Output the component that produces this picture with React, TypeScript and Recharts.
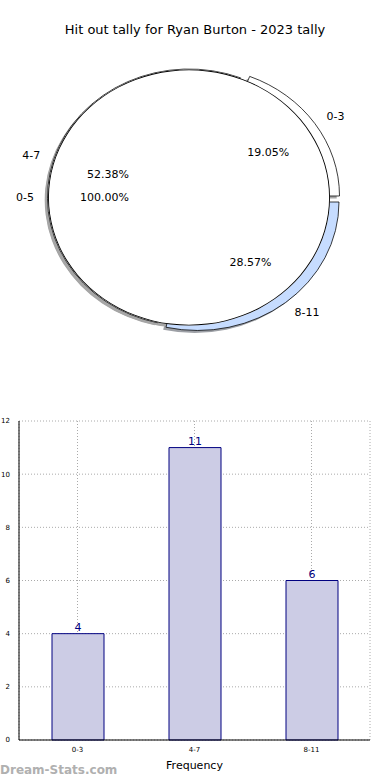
import React from "react";
import { PieChart, Pie, Cell, BarChart, Bar, XAxis, YAxis, CartesianGrid, LabelList } from "recharts";

const title = "Hit out tally for Ryan Burton - 2023 tally";
const categories = ["0-3", "4-7", "8-11"];
const counts = [4, 11, 6];
const innerCategories = ["0-5"];
const innerCounts = [21];
const yTicks = [0, 2, 4, 6, 8, 10, 12];

const outerColors = ["#ffffff", "#ffffff", "#c6dcff"];
const shadowColors = ["#a6a6a6", "#a6a6a6", "#9da0a6"];
// how far each outer slice is pulled out, in screen px
const explodeX = [9, 0, 8.5];
const explodeY = [-1.5, 0, 4.5];

const outerData = categories.map((name, i) => ({ name, value: counts[i] }));
const innerData = innerCategories.map((name, i) => ({ name, value: innerCounts[i] }));
const barData = categories.map((name, i) => ({ name, value: counts[i] }));

const FONT = "'DejaVu Sans', sans-serif";
const RADIAN = Math.PI / 180;
const CX = 189;
const CY = 197.5;
const SY = 0.908;
const INNER_R = 141;
const OUTER_R = 141.5;
const SHADOW = 2.8;

const makeLabel = (only: number | null) => (props: any) => {
  const { cx, cy, midAngle, outerRadius, percent, name, index } = props;
  if (only !== null && index !== only) return null;
  const cos = Math.cos(-midAngle * RADIAN);
  const sin = Math.sin(-midAngle * RADIAN);
  const lx = cx + outerRadius * 1.1 * cos;
  const ly = cy + outerRadius * 1.1 * sin;
  const px = cx + outerRadius * 0.6 * cos;
  const py = cy + outerRadius * 0.6 * sin;
  const k = `scale(1,${1 / SY})`;
  return (
    <g>
      <text
        transform={`translate(${lx},${ly}) ${k}`}
        textAnchor={cos > 0 ? "start" : "end"}
        dominantBaseline="central"
        fontSize={11}
        fontFamily={FONT}
        fill="#000"
      >
        {name}
      </text>
      <text
        transform={`translate(${px},${py}) ${k}`}
        textAnchor="middle"
        dominantBaseline="central"
        fontSize={11}
        fontFamily={FONT}
        fill="#000"
      >
        {(percent * 100).toFixed(2)}%
      </text>
    </g>
  );
};

export default function App() {
  return (
    <div style={{ position: "absolute", left: 0, top: 0, width: 390, height: 780, background: "#fff", fontFamily: FONT }}>
      <div style={{ position: "absolute", top: 21, left: 0, width: 390, textAlign: "center", fontSize: 13, lineHeight: "18px" }}>
        {title}
      </div>

      <div
        style={{
          position: "absolute",
          top: 0,
          left: 0,
          transform: `scaleY(${SY})`,
          transformOrigin: `${CX}px ${CY}px`,
        }}
      >
        <PieChart width={390} height={394} margin={{ top: 0, right: 0, bottom: 0, left: 0 }}>
          {/* shadows */}
          {categories.map((c, i) => (
            <Pie
              key={"s" + c}
              data={outerData}
              dataKey="value"
              nameKey="name"
              cx={CX + explodeX[i] - SHADOW}
              cy={CY + explodeY[i] / SY + SHADOW}
              outerRadius={OUTER_R}
              startAngle={0}
              endAngle={360}
              isAnimationActive={false}
              label={false}
              labelLine={false}
            >
              {outerData.map((d, j) => (
                <Cell key={d.name} fill={j === i ? shadowColors[i] : "none"} stroke="none" />
              ))}
            </Pie>
          ))}
          <Pie
            data={innerData}
            dataKey="value"
            nameKey="name"
            cx={CX - SHADOW}
            cy={CY + SHADOW}
            outerRadius={INNER_R}
            startAngle={0}
            endAngle={360}
            isAnimationActive={false}
            label={false}
            labelLine={false}
          >
            <Cell fill="#a6a6a6" stroke="none" />
          </Pie>

          {/* outer slices */}
          {categories.map((c, i) => (
            <Pie
              key={"o" + c}
              data={outerData}
              dataKey="value"
              nameKey="name"
              cx={CX + explodeX[i]}
              cy={CY + explodeY[i] / SY}
              outerRadius={OUTER_R}
              startAngle={0}
              endAngle={360}
              isAnimationActive={false}
              label={makeLabel(i)}
              labelLine={false}
            >
              {outerData.map((d, j) => (
                <Cell
                  key={d.name}
                  fill={j === i ? outerColors[i] : "none"}
                  stroke={j === i ? "#000" : "none"}
                  strokeWidth={0.8}
                />
              ))}
            </Pie>
          ))}

          {/* inner full pie: white face, then a thin black rim */}
          <Pie
            data={innerData}
            dataKey="value"
            nameKey="name"
            cx={CX}
            cy={CY}
            outerRadius={INNER_R}
            startAngle={0}
            endAngle={360}
            isAnimationActive={false}
            label={makeLabel(null)}
            labelLine={false}
          >
            <Cell fill="#ffffff" stroke="none" />
          </Pie>
          <Pie
            data={innerData}
            dataKey="value"
            nameKey="name"
            cx={CX}
            cy={CY}
            innerRadius={INNER_R - 0.9}
            outerRadius={INNER_R}
            startAngle={0}
            endAngle={360}
            isAnimationActive={false}
            label={false}
            labelLine={false}
          >
            <Cell fill="#000" stroke="none" />
          </Pie>
        </PieChart>
      </div>

      <div style={{ position: "absolute", top: 410, left: 0 }}>
        <BarChart width={390} height={370} data={barData} margin={{ top: 11, right: 20, left: 0, bottom: 0 }}>
          <CartesianGrid stroke="#aaa" strokeDasharray="1 2" />
          <XAxis
            dataKey="name"
            height={40}
            tick={{ fontSize: 7, fill: "#000", fontFamily: FONT }}
            tickLine={false}
            axisLine={{ stroke: "#000" }}
            tickMargin={1}
            label={{ value: "Frequency", position: "insideBottom", offset: 11, fontSize: 11, fill: "#000", fontFamily: FONT }}
          />
          <XAxis xAxisId="top" dataKey="name" orientation="top" height={0} tick={false} tickLine={false} axisLine={{ stroke: "#000" }} />
          <YAxis
            width={19}
            domain={[0, 12]}
            ticks={yTicks}
            tick={{ fontSize: 7, fill: "#000", fontFamily: FONT }}
            tickLine={false}
            axisLine={{ stroke: "#000" }}
            tickMargin={3}
            label={{ value: "Stat Hit Outs", angle: -90, position: "insideLeft", offset: -10, fontSize: 11, fill: "#000", fontFamily: FONT }}
          />
          <YAxis yAxisId="right" orientation="right" width={0} domain={[0, 12]} tick={false} tickLine={false} axisLine={{ stroke: "#000" }} />
          <Bar dataKey="value" barSize={52} fill="#ccccE5" stroke="#000080" strokeWidth={1} isAnimationActive={false}>
            <LabelList dataKey="value" position="top" offset={3} fill="#000080" fontSize={11} fontFamily={FONT} />
          </Bar>
        </BarChart>
      </div>

      <div style={{ position: "absolute", left: 0, top: 762, fontSize: 12, fontWeight: "bold", color: "#b0b0b0", lineHeight: "16px" }}>
        Dream-Stats.com
      </div>
    </div>
  );
}
